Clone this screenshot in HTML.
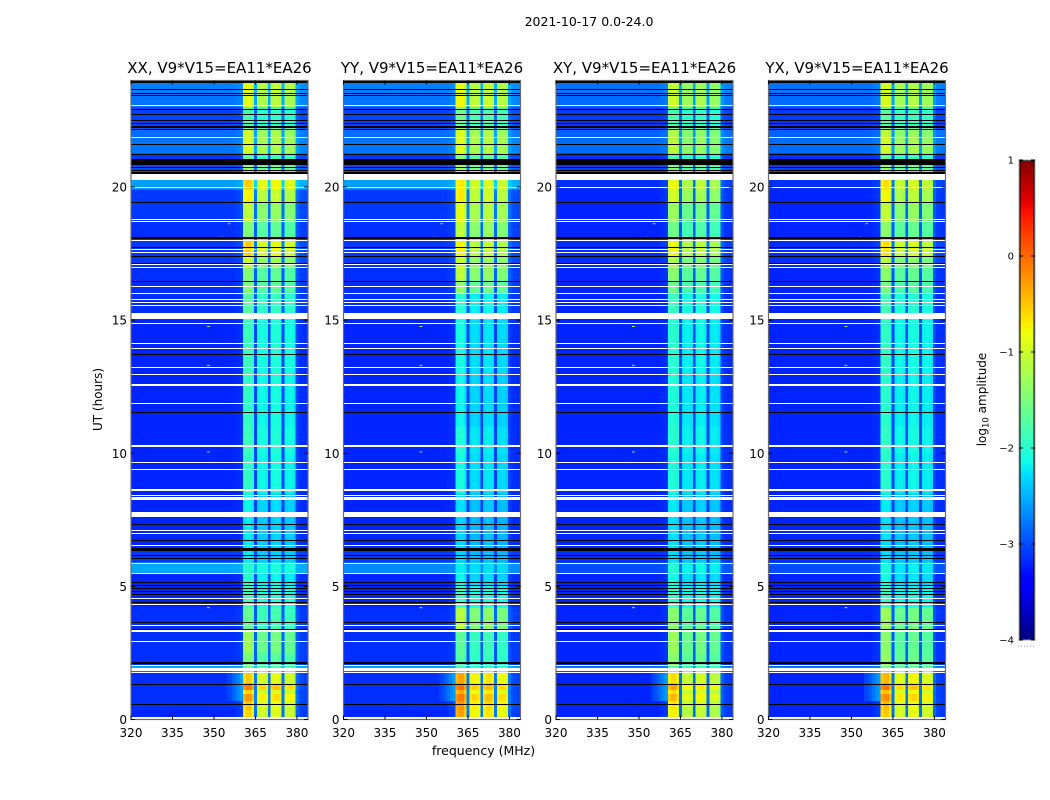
<!DOCTYPE html>
<html>
<head>
<meta charset="utf-8">
<title>2021-10-17 0.0-24.0</title>
<style>
html,body{margin:0;padding:0;background:#fff;width:1050px;height:800px;overflow:hidden}
svg{display:block}
text{font-family:"DejaVu Sans","Liberation Sans",sans-serif;fill:#000}
</style>
</head>
<body>
<svg id="chart" xmlns="http://www.w3.org/2000/svg" width="1050" height="800" viewBox="0 0 1050 800">
  <rect x="0" y="0" width="1050" height="800" fill="#fff"/>
  <text x="589" y="26" font-size="12.5" text-anchor="middle">2021-10-17 0.0-24.0</text>
  <text x="483.5" y="755" font-size="12.5" text-anchor="middle">frequency (MHz)</text>
  <text transform="translate(102,399.5) rotate(-90)" font-size="12" text-anchor="middle">UT (hours)</text>
  <text transform="translate(986,399.5) rotate(-90)" font-size="12" text-anchor="middle">log<tspan font-size="8.5" dy="2.5">10</tspan><tspan dy="-2.5"> amplitude</tspan></text>
</svg>
<script>
// Panel titles and axis labels
const panelTitles = ['XX, V9*V15=EA11*EA26', 'YY, V9*V15=EA11*EA26', 'XY, V9*V15=EA11*EA26', 'YX, V9*V15=EA11*EA26'];
const xTickLabels = [320, 335, 350, 365, 380];
const yTickLabels = [0, 5, 10, 15, 20];
const colorbarTickLabels = [1, 0, -1, -2, -3, -4];

// Frequency channels (MHz) and how strongly each follows the in-band level (0 = background, 1 = band)
const channels = [320,321,322,323,324,325,326,327,328,329,330,331,332,333,334,335,336,337,338,339,340,341,342,343,344,345,346,347,348,349,350,351,352,353,354,355,356,357,358,359,360,361,362,363,364,365,366,367,368,369,370,371,372,373,374,375,376,377,378,379,380,381,382,383,384];
const channelWeight = [0,0,0,0,0,0,0,0,0,0,0,0,0,0,0,0,0,0,0,0,0,0,0,0,0,0,0,0,0,0,0,0,0,0,0,0,0,0,.02,.03,.05,1.05,1.1,1.1,1,.15,.88,.92,.92,.88,.15,.92,.96,.96,.92,.15,.88,.9,.9,.85,.14,.06,.05,.04,.04];

// Start hour of each time segment
const segmentStart = [0,.35,.7,.95,1.1,1.35, 1.8,2.05,2.5,3.3,4.2,5, 5.5,5.9,6.4,7.7,8.5,10, 11,13,15,16,16.5,17, 17.4,18,18.7,19.4,19.9,20.5, 21.06,21.25,21.87,22.2,23,23.5];

// log10 amplitude inside the 361-380 MHz band, one value per segment
const bandXX = [-.8,-.75,-.5,-.8,-.35,-.75, -1.7,-1.65,-1.45,-1.75,-1.95,-2.1, -2.05,-2.3,-2.3,-2.25,-2.05,-2.0, -2.05,-2.0,-1.85,-1.6,-1.6,-1.2, -.75,-1.6,-1.25,-.95,-.7,-1.5, -1.8,-1.1,-1.15,-1.9,-1.05,-1.0];
const bandYY = [-.55,-.5,-.35,-.6,-.3,-.55, -1.9,-1.85,-1.8,-1.3,-2.0,-2.25, -2.25,-2.4,-2.4,-2.35,-2.2,-2.15, -2.25,-2.2,-2.1,-1.5,-1.25,-1.2, -.95,-1.25,-1.05,-.9,-.85,-1.4, -1.6,-1.05,-1.1,-1.7,-.95,-1.0];
const bandXY = [-.95,-.9,-.65,-.85,-.55,-.85, -1.8,-1.55,-1.45,-1.55,-2.05,-2.2, -2.1,-2.35,-2.35,-2.3,-2.15,-2.1, -2.15,-2.1,-2.0,-1.7,-1.55,-1.35, -1.0,-1.7,-1.45,-1.15,-1.0,-1.6, -1.9,-1.25,-1.3,-1.9,-1.15,-1.2];
const bandYX = [-.75,-.7,-.45,-.7,-.35,-.65, -1.6,-1.5,-1.55,-1.45,-2.05,-2.2, -2.15,-2.35,-2.35,-2.3,-2.1,-2.05, -2.1,-2.05,-1.95,-1.65,-1.55,-1.3, -.85,-1.55,-1.25,-1.0,-.85,-1.5, -1.8,-1.15,-1.25,-1.8,-1.1,-1.1];

// log10 amplitude outside the band, one value per segment
const backgroundXX = [-3.2,-3.15,-3.15,-3.15,-3.15,-3.15, -2.55,-3.15,-3.15,-3.15,-3.2,-3.2, -2.55,-3.1,-3.2,-3.2,-3.2,-3.2, -3.2,-3.2,-3.15,-3.15,-3.15,-3.1, -3.1,-3.15,-3.1,-3.1,-2.6,-3.0, -3.1,-2.8,-2.85,-3.05,-2.8,-2.75];
const backgroundYY = [-3.2,-3.15,-3.15,-3.15,-3.15,-3.15, -2.6,-3.15,-3.15,-3.15,-3.2,-3.2, -2.7,-3.1,-3.2,-3.2,-3.2,-3.2, -3.2,-3.2,-3.15,-3.15,-3.15,-3.1, -3.1,-3.15,-3.1,-3.1,-2.6,-3.0, -3.1,-2.8,-2.85,-3.05,-2.8,-2.75];
const backgroundXY = [-3.2,-3.2,-3.2,-3.2,-3.2,-3.2, -2.8,-3.2,-3.2,-3.2,-3.2,-3.2, -3.0,-3.15,-3.2,-3.2,-3.2,-3.2, -3.2,-3.2,-3.2,-3.2,-3.2,-3.15, -3.15,-3.2,-3.2,-3.2,-3.15,-3.05, -3.15,-2.85,-2.9,-3.1,-2.85,-2.8];
const backgroundYX = [-3.2,-3.2,-3.2,-3.2,-3.2,-3.2, -2.8,-3.2,-3.2,-3.2,-3.2,-3.2, -3.0,-3.15,-3.2,-3.2,-3.2,-3.2, -3.2,-3.2,-3.2,-3.2,-3.2,-3.15, -3.15,-3.2,-3.2,-3.2,-3.15,-3.05, -3.15,-2.85,-2.9,-3.1,-2.85,-2.8];

const panelBands = [bandXX, bandYY, bandXY, bandYX];
const panelBackgrounds = [backgroundXX, backgroundYY, backgroundXY, backgroundYX];

// Faint emission just below the band during the first hours
const wingChannels = [355,356,357,358,359,360];
const wingLevels = [-3.05,-3.0,-2.9,-2.8,-2.7,-2.6];
const wingSegments = [2,3,4,5];

// Flagged (white) and empty (black) time ranges, in hours, shared by all panels
const whiteRanges = [[20.25,20.48],[15.03,15.26],[7.60,7.78],[8.25,8.36],[8.58,8.65],[12.52,12.59],[1.83,1.94],[3.30,3.37],[16.95,17.0]];
const blackRanges = [[23.9,24],[22.22,22.30],[20.83,21.06],[20.48,20.55],[18.06,18.11],[6.32,6.44],[2.10,2.17]];
const whiteLines = [.04,.09,1.76,2.02,2.95,3.53,4.34,4.55,5.49,5.87,6.54,6.99,7.11,8.42,9.39,9.66,10.24,10.29,11.88,12.96,13.21,13.94,14.14,14.88,15.55,15.67,15.77,16.01,16.25,17.09,17.54,17.64,17.98,18.70,18.79,19.44,19.97,21.87,23.08];
const blackLines = [.57,1.31,3.40,3.63,4.40,4.71,4.82,4.93,5.05,5.16,6.06,6.17,6.74,7.34,11.55,13.71,16.45,17.13,17.39,17.72,19.42,20.62,20.73,21.22,21.59,22.18,22.39,22.52,22.71,22.91,23.43,23.53,23.67];

// Isolated interference spots: hour, frequency, log10 amplitude
const interferenceSpots = [[14.76,348,-1.2],[13.3,348,-1.2],[4.2,348,-1],[10.05,348,-1.6],[18.11,353,-1.2],[18.1,345,-1.4],[18.62,355.5,-1.5]];

// Matplotlib "jet" control points per colour channel
const jetRed = [[0,0],[.35,0],[.66,1],[.89,1],[1,.5]];
const jetGreen = [[0,0],[.125,0],[.375,1],[.64,1],[.91,0],[1,0]];
const jetBlue = [[0,.5],[.11,1],[.34,1],[.65,0],[1,0]];

const SVG_NS = 'http://www.w3.org/2000/svg';
const svg = document.getElementById('chart');
const panelLeft = [131, 343.5, 556, 768.5];
const panelWidth = 177;
const plotTop = 80.5;
const plotBottom = 719.5;
const cbarLeft = 1019;
const cbarRight = 1035;
const cbarTop = 160;
const cbarBottom = 640;

function xScale(panel, freq) { return panelLeft[panel] + (freq - 320) * panelWidth / 64; }
function yScale(hour) { return plotBottom - hour * (plotBottom - plotTop) / 24; }
function cbarScale(value) { return cbarBottom - (value + 4) * (cbarBottom - cbarTop) / 5; }

function interp(points, t) {
  for (let i = 1; i < points.length; i++) {
    if (t <= points[i][0]) {
      const a = points[i - 1], b = points[i];
      return a[1] + (b[1] - a[1]) * (t - a[0]) / (b[0] - a[0]);
    }
  }
  return points[points.length - 1][1];
}
function jet(value) {
  const t = Math.max(0, Math.min(1, (value + 4) / 5));
  const r = Math.round(255 * interp(jetRed, t));
  const g = Math.round(255 * interp(jetGreen, t));
  const b = Math.round(255 * interp(jetBlue, t));
  return 'rgb(' + r + ',' + g + ',' + b + ')';
}
function make(tag, parent, attrs) {
  const el = document.createElementNS(SVG_NS, tag);
  for (const k in attrs) el.setAttribute(k, attrs[k]);
  parent.appendChild(el);
  return el;
}
function hourBand(parent, panel, h0, h1, fill) {
  const top = Math.round(yScale(h1));
  const bottom = Math.max(top + 1, Math.round(yScale(h0)));
  return make('rect', parent, {x: panelLeft[panel], y: top, width: panelWidth, height: bottom - top, fill: fill, 'shape-rendering': 'crispEdges'});
}

panelTitles.forEach(function (title, p) {
  const group = make('g', svg, {});
  
  

  // Heatmap cells
  const cells = make('g', group, {});
  
  
  const band = panelBands[p];
  const background = panelBackgrounds[p];
  segmentStart.forEach(function (start, s) {
    const end = s + 1 < segmentStart.length ? segmentStart[s + 1] : 24;
    channels.forEach(function (freq, c) {
      const x0 = Math.max(xScale(p, freq - 0.5), panelLeft[p]);
      const x1 = Math.min(xScale(p, freq + 0.5), panelLeft[p] + panelWidth);
      let value = background[s] + channelWeight[c] * (band[s] - background[s]);
      const wingIndex = wingChannels.indexOf(freq);
      if (wingIndex >= 0 && wingSegments.indexOf(s) >= 0) value = Math.max(value, wingLevels[wingIndex]);
      const cell = make('rect', cells, {x: x0, y: yScale(end), width: x1 - x0, height: yScale(start) - yScale(end), fill: jet(value), 'shape-rendering': 'crispEdges'});
      
      
    });
  });

  // Interference spots
  interferenceSpots.forEach(function (spot) {
    const mark = make('rect', group, {x: xScale(p, spot[1] - 0.5), y: yScale(spot[0]) - 0.5, width: panelWidth / 64, height: 1, fill: jet(spot[2])});
    
    
  });

  // Flagged rows
  whiteRanges.forEach(function (r) {
    const row = hourBand(group, p, r[0], r[1], '#fff');
    
    
  });
  blackRanges.forEach(function (r) {
    const row = hourBand(group, p, r[0], r[1], '#000');
    
    
  });
  whiteLines.forEach(function (h) {
    const row = hourBand(group, p, h - 0.015, h + 0.015, '#fff');
    
    
  });
  blackLines.forEach(function (h) {
    const row = hourBand(group, p, h - 0.015, h + 0.015, '#000');
    
    
  });

  // Frame
  const frame = make('rect', group, {x: panelLeft[p], y: plotTop, width: panelWidth, height: plotBottom - plotTop, fill: 'none', stroke: '#6a6a6a', 'stroke-width': 1.2});
  
  

  // Title
  const titleEl = make('text', group, {x: panelLeft[p] + panelWidth / 2, y: 73, 'font-size': 15, 'text-anchor': 'middle'});
  titleEl.textContent = title;
  
  

  // X ticks
  xTickLabels.forEach(function (label) {
    const x = xScale(p, label);
    const bottomTick = make('line', group, {x1: x, x2: x, y1: plotBottom, y2: plotBottom - 4, stroke: '#000', 'stroke-width': 1});
    
    
    const topTick = make('line', group, {x1: x, x2: x, y1: plotTop, y2: plotTop + 4, stroke: '#000', 'stroke-width': 1});
    
    
    const text = make('text', group, {x: x, y: 737, 'font-size': 12, 'text-anchor': 'middle'});
    text.textContent = label;
    
    
  });

  // Y ticks
  yTickLabels.forEach(function (label) {
    const y = yScale(label);
    const leftTick = make('line', group, {x1: panelLeft[p], x2: panelLeft[p] + 4, y1: y, y2: y, stroke: '#000', 'stroke-width': 1});
    
    
    const rightTick = make('line', group, {x1: panelLeft[p] + panelWidth, x2: panelLeft[p] + panelWidth - 4, y1: y, y2: y, stroke: '#000', 'stroke-width': 1});
    
    
    const text = make('text', group, {x: panelLeft[p] - 4, y: y + 4.5, 'font-size': 12, 'text-anchor': 'end'});
    text.textContent = label;
    
    
  });
});

// Colorbar
const cbar = make('g', svg, {});


for (let py = cbarTop; py < cbarBottom; py += 2) {
  const value = 1 - (py + 1 - cbarTop) * 5 / (cbarBottom - cbarTop);
  const strip = make('rect', cbar, {x: cbarLeft, y: py, width: cbarRight - cbarLeft, height: 2, fill: jet(value), 'shape-rendering': 'crispEdges'});
  
  
}
const cbarInner = make('rect', cbar, {x: cbarLeft + 1, y: cbarTop + .5, width: cbarRight - cbarLeft - 2, height: cbarBottom - cbarTop - 1, fill: 'none', stroke: '#000', 'stroke-width': 1});


const cbarFrame = make('rect', cbar, {x: cbarLeft, y: cbarTop, width: cbarRight - cbarLeft, height: cbarBottom - cbarTop, fill: 'none', stroke: '#aaa', 'stroke-width': 1});



colorbarTickLabels.forEach(function (label) {
  const y = cbarScale(label);
  const left = make('line', cbar, {x1: cbarLeft, x2: cbarLeft + 4, y1: y, y2: y, stroke: '#000', 'stroke-width': 1});
  
  
  const right = make('line', cbar, {x1: cbarRight, x2: cbarRight - 4, y1: y, y2: y, stroke: '#000', 'stroke-width': 1});
  
  
  const text = make('text', cbar, {x: cbarLeft - 5, y: y + 3.5, 'font-size': 10, 'text-anchor': 'end'});
  text.textContent = String(label).replace('-', '\u2212');
  
  
});

const dots = make('line', svg, {x1: 1018, x2: 1035, y1: 646, y2: 646, stroke: '#999', 'stroke-width': 1, 'stroke-dasharray': '1 2'});


</script>
</body>
</html>
